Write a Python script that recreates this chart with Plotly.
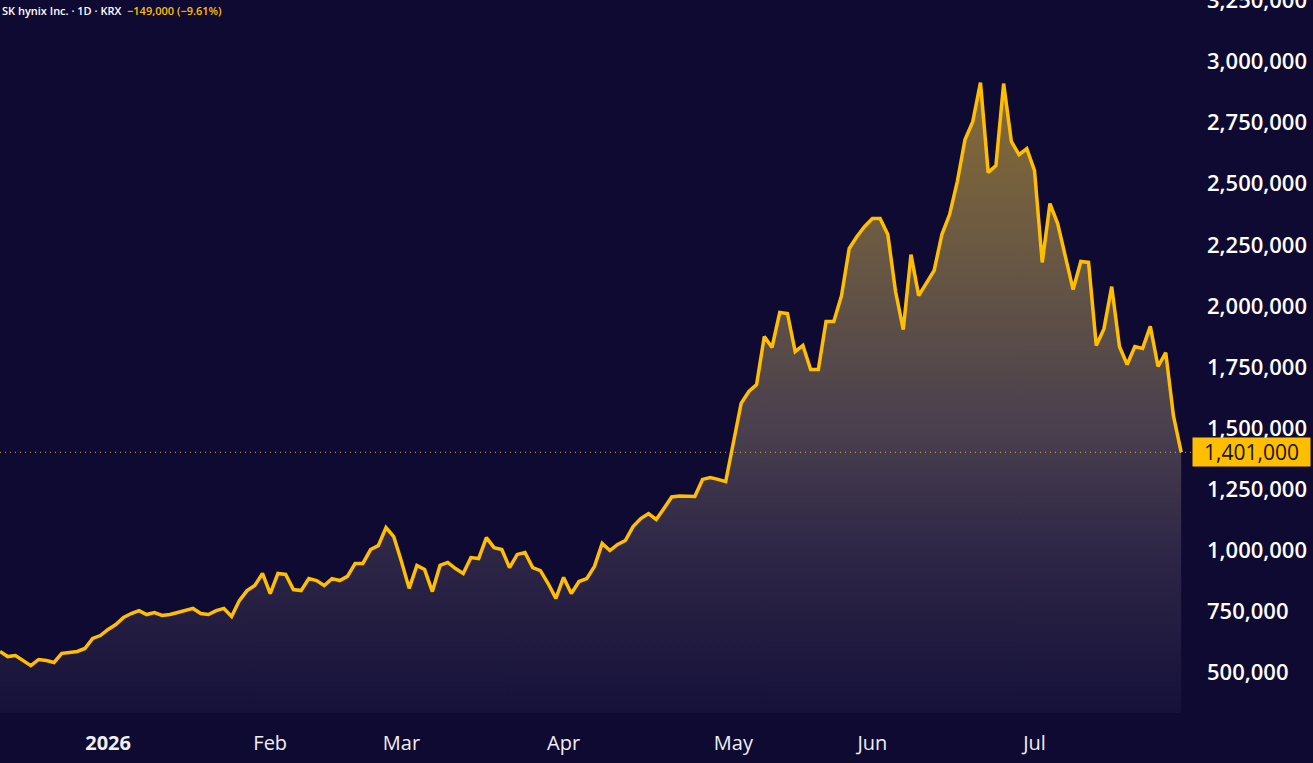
import pandas as pd
import plotly.graph_objects as go

# ---------------- data ----------------
krx_holidays = [
    "2025-12-25", "2025-12-31", "2026-01-01",
    "2026-02-16", "2026-02-17", "2026-02-18",
    "2026-03-02", "2026-05-01", "2026-05-05",
    "2026-05-25", "2026-06-03",
]
dates = [d.strftime("%Y-%m-%d") for d in
         pd.bdate_range("2025-12-10", "2026-07-28", freq="C", holidays=krx_holidays)]

close = [
    586000, 565000, 569000, 549000, 528000, 553000, 549000, 541000, 578000, 582000,
    586000, 598000, 639000, 651000,
    # Jan 2026
    676000, 696000, 725000, 741000, 753000, 737000, 745000, 733000, 737000, 745000,
    753000, 762000, 741000, 737000, 753000, 762000, 729000, 794000, 835000, 856000,
    905000,
    # Feb
    823000, 905000, 901000, 839000, 835000, 884000, 876000, 856000, 884000, 876000,
    893000, 946000, 946000, 1003000, 1019000, 1093000, 1056000,
    # Mar
    954000, 844000, 938000, 921000, 831000, 938000, 950000, 925000, 905000, 970000,
    966000, 1052000, 1011000, 1003000, 929000, 983000, 991000, 929000, 917000, 864000,
    803000,
    # Apr
    889000, 823000, 872000, 884000, 934000, 1028000, 999000, 1024000, 1040000, 1097000,
    1130000, 1150000, 1126000, 1171000, 1218000, 1222000, 1221000, 1220000, 1290000, 1298000,
    1290000, 1281000,
    # May
    1441000, 1601000, 1650000, 1678000, 1875000, 1830000, 1973000, 1969000, 1813000, 1838000,
    1740000, 1740000, 1936000, 1936000, 2042000, 2235000, 2284000, 2325000,
    # Jun
    2358000, 2358000, 2292000, 2059000, 1903000, 2210000, 2042000, 2092000, 2145000, 2292000,
    2374000, 2509000, 2681000, 2754000, 2914000, 2546000, 2574000, 2910000, 2673000, 2619000,
    2644000,
    # Jul
    2554000, 2178000, 2419000, 2337000, 2202000, 2067000, 2182000, 2178000, 1838000, 1907000,
    2079000, 1834000, 1760000, 1834000, 1826000, 1916000, 1752000, 1809000, 1550000, 1401000,
]

x_tick_dates = ["2026-01-02", "2026-02-02", "2026-03-03", "2026-04-01",
                "2026-05-04", "2026-06-01", "2026-07-01"]
x_tick_text = ["<b>2026</b>", "Feb", "Mar", "Apr", "May", "Jun", "Jul"]
y_tick_vals = [500000, 750000, 1000000, 1250000, 1500000, 1750000, 2000000,
               2250000, 2500000, 2750000, 3000000, 3250000]

title_text = "SK hynix Inc. · 1D · KRX"
change_text = "−149,000 (−9.61%)"
last_price = close[-1]

# ---------------- style ----------------
BG = "#0f0a32"
AMBER = "#ffbf00"
FONT = "Open Sans"

fig = go.Figure()
fig.add_trace(go.Scatter(
    x=dates, y=close, mode="lines",
    line=dict(color=AMBER, width=3.5),
    fill="tozeroy",
    fillgradient=dict(
        type="vertical",
        start=334000, stop=2950000,
        colorscale=[
            [0.0, "rgb(22,17,58)"],
            [0.25, "rgb(45,38,70)"],
            [0.45, "rgb(74,64,78)"],
            [0.65, "rgb(97,82,70)"],
            [0.85, "rgb(120,98,60)"],
            [1.0, "rgb(135,108,55)"],
        ],
    ),
    hoverinfo="skip",
    showlegend=False,
))

fig.add_shape(
    type="line", xref="x domain", yref="y",
    x0=0, x1=1, y0=last_price, y1=last_price,
    line=dict(color="rgba(255,200,60,0.85)", width=1, dash="1px,4px"),
)

fig.add_annotation(
    xref="paper", yref="y", x=1, y=last_price,
    xanchor="left", yanchor="middle",
    text=f"{last_price:,}",
    showarrow=False,
    bgcolor=AMBER, borderpad=0,
    width=117, height=28, align="center",
    font=dict(family=FONT, size=21, color="#131313", weight=500),
)

fig.add_annotation(
    xref="paper", yref="paper", x=0, y=1,
    xanchor="left", yanchor="top", yshift=-1, xshift=0,
    text=f"{title_text}  <span style='color:{AMBER}'>{change_text}</span>",
    showarrow=False,
    font=dict(family=FONT, size=11, color="#ffffff", weight=600),
)

fig.update_layout(
    width=1313, height=763,
    margin=dict(l=0, r=121, t=0, b=50, autoexpand=False),
    paper_bgcolor=BG, plot_bgcolor=BG,
    font=dict(family=FONT, color="#ffffff"),
    xaxis=dict(
        type="category",
        range=[0, 154.4],
        tickmode="array", tickvals=x_tick_dates, ticktext=x_tick_text,
        showgrid=False, zeroline=False, showline=False, ticks="",
        tickfont=dict(family=FONT, size=20, color="#f0f0f0", weight=500),
        ticklabelstandoff=16,
        automargin=False,
    ),
    yaxis=dict(
        side="right",
        range=[334000, 3252000],
        tickmode="array", tickvals=y_tick_vals,
        tickformat=",",
        showgrid=False, zeroline=False, showline=False, ticks="",
        tickfont=dict(family=FONT, size=22, color="#ffffff", weight=600),
        ticklabelstandoff=14,
        ticklabeloverflow="allow",
        automargin=False,
    ),
)

fig.write_html("out.html", config={"displayModeBar": False})
